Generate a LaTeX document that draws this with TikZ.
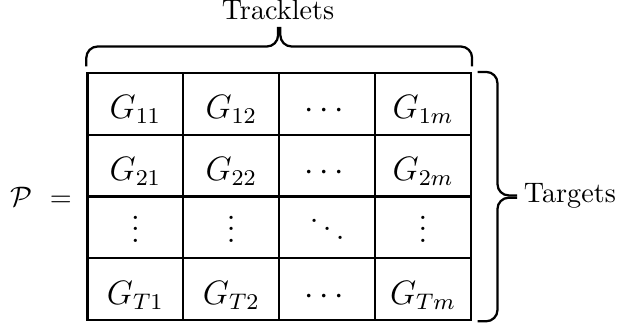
\documentclass[tikz,border=0pt]{standalone}
\usepackage{amsmath,amssymb}
\usetikzlibrary{positioning}

\begin{document}
\begin{tikzpicture}[x=1.195cm,y=0.77cm,
   cell/.style={draw,thick,minimum width=1.195cm,minimum height=0.77cm,inner sep=0pt,
                font=\large,text height=12pt,text depth=1.5pt},
   bracket/.style={thick,rounded corners=4pt}]
  \useasboundingbox (-1.09cm,-0.10cm) rectangle (6.65cm,3.99cm);
  \foreach \r/\a/\b/\c/\d in {1/G_{11}/G_{12}/\cdots/G_{1m},
                             2/G_{21}/G_{22}/\cdots/G_{2m},
                             3/\vdots/\vdots/\ddots/\vdots,
                             4/G_{T1}/G_{T2}/\cdots/G_{Tm}}{
    \node[cell](c\r1) at (0.5,4.5-\r){$\a$};
    \node[cell](c\r2) at (1.5,4.5-\r){$\b$};
    \node[cell](c\r3) at (2.5,4.5-\r){$\c$};
    \node[cell](c\r4) at (3.5,4.5-\r){$\d$};
  }
  % brace over the columns
  \draw[bracket]([yshift=2pt]c11.north west) -- ++(0,7pt) -- ++(2,0) -- ++(0,7pt)
     node[above,inner sep=2pt](trk){Tracklets};
  \draw[bracket]([yshift=2pt]c14.north east) -- ++(0,7pt) -- ++(-2,0) -- ++(0,7pt);
  % brace beside the rows
  \draw[bracket]([xshift=2pt]c14.north east) -- ++(7pt,0) -- ++(0,-2) -- ++(7pt,0)
     node[right,inner sep=2pt](tgt){Targets};
  \draw[bracket]([xshift=2pt]c44.south east) -- ++(7pt,0) -- ++(0,2) -- ++(7pt,0);
  \coordinate (lm) at (0,2);
  \node[left=2pt of lm](lhs){$\mathcal{P}\ =$};
\end{tikzpicture}
\end{document}
